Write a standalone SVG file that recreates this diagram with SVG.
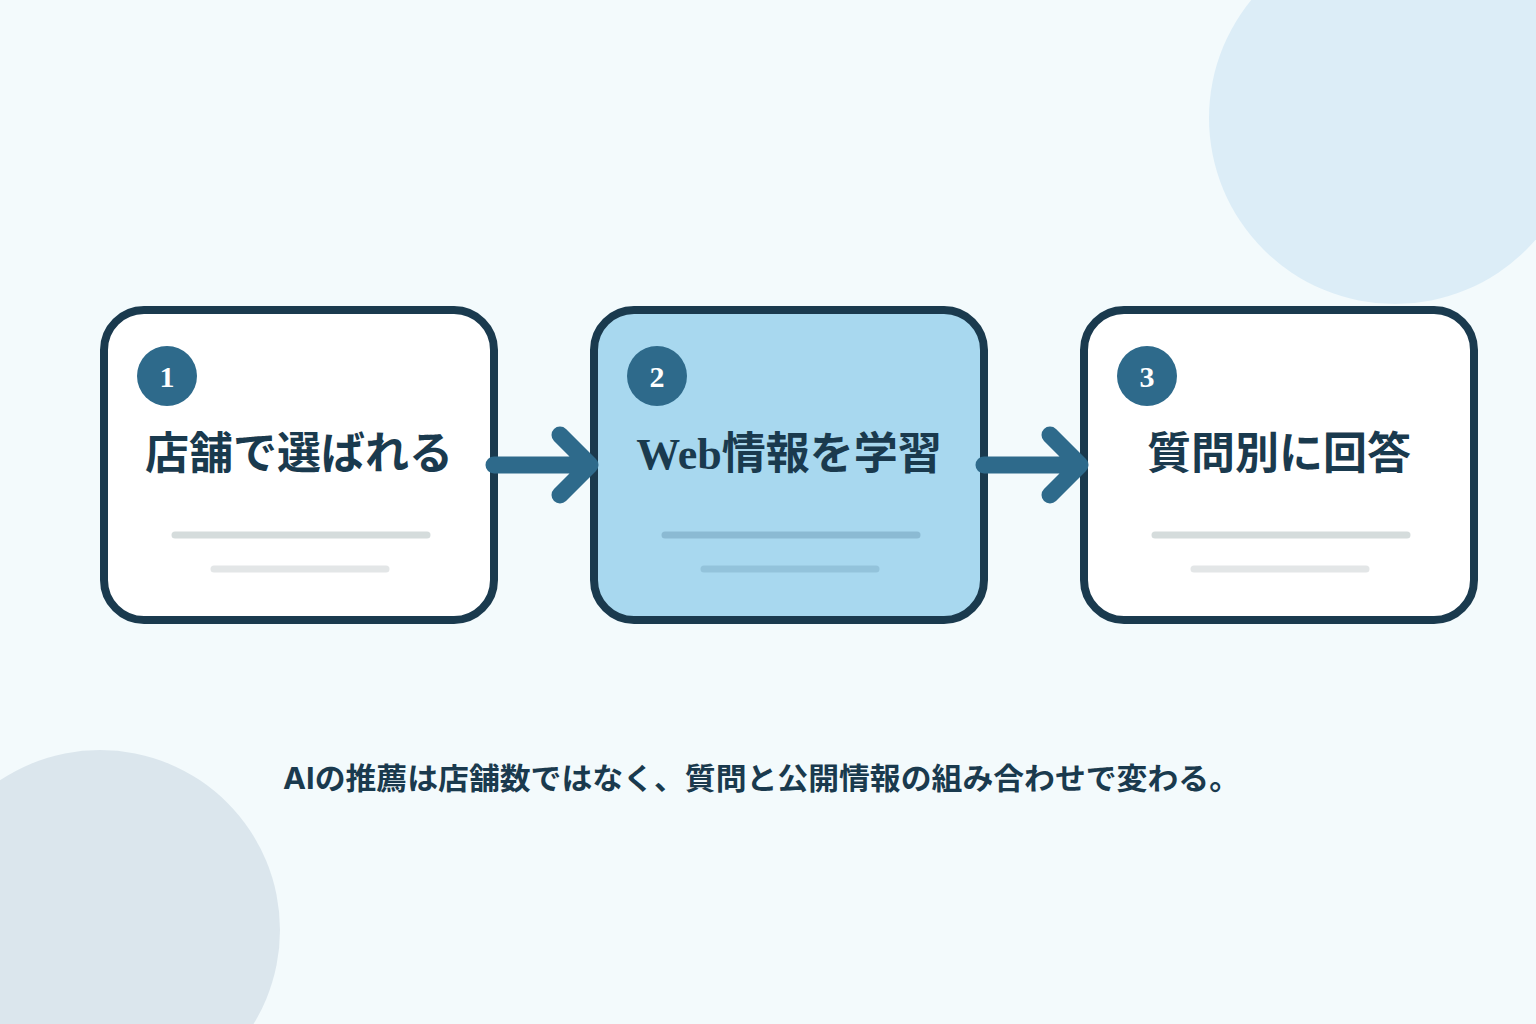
<svg xmlns="http://www.w3.org/2000/svg" width="1536" height="1024" viewBox="0 0 1536 1024">
<style>
.box{stroke:#1a3a4e;stroke-width:8}
.num{fill:#fff;font-family:"Liberation Serif",serif;font-weight:bold;font-size:30px;text-anchor:middle}
.title{fill:#1a3a4e;font-family:"Liberation Serif","Noto Sans CJK JP",serif;font-weight:bold;font-size:44px;text-anchor:middle}
.l1{stroke:#d5dcdc;stroke-width:7;stroke-linecap:round}
.l2{stroke:#e3e6e7;stroke-width:7;stroke-linecap:round}
.c{stroke:#2e6a8b;stroke-width:17;stroke-linecap:round;stroke-linejoin:round;fill:none}
</style>
<rect width="1536" height="1024" fill="#f3fafc"/>
<circle cx="1395" cy="118" r="186" fill="#dcedf7"/>
<circle cx="100" cy="930" r="180" fill="#dbe6ed"/>
<g id="n1">
<rect class="box" x="104" y="310" width="390" height="310" rx="40" fill="#fff"/>
<circle cx="167" cy="376" r="30" fill="#2e6a8b"/>
<text class="num" x="167" y="387">1</text>
<text class="title" x="299" y="469">店舗で選ばれる</text>
<line class="l1" x1="175" y1="535" x2="427" y2="535"/>
<line class="l2" x1="214" y1="569" x2="386" y2="569"/>
</g>
<g id="n2">
<rect class="box" x="594" y="310" width="390" height="310" rx="40" fill="#a8d8ef"/>
<circle cx="657" cy="376" r="30" fill="#2e6a8b"/>
<text class="num" x="657" y="387">2</text>
<text class="title" x="789" y="469">Web情報を学習</text>
<line x1="665" y1="535" x2="917" y2="535" stroke="#8bbad3" stroke-width="7" stroke-linecap="round"/>
<line x1="704" y1="569" x2="876" y2="569" stroke="#93c3db" stroke-width="7" stroke-linecap="round"/>
</g>
<g id="n3">
<rect class="box" x="1084" y="310" width="390" height="310" rx="40" fill="#fff"/>
<circle cx="1147" cy="376" r="30" fill="#2e6a8b"/>
<text class="num" x="1147" y="387">3</text>
<text class="title" x="1279" y="469">質問別に回答</text>
<line class="l1" x1="1155" y1="535" x2="1407" y2="535"/>
<line class="l2" x1="1194" y1="569" x2="1366" y2="569"/>
</g>
<g id="connectors">
<path class="c" d="M494 465 H588 M560 435 L590 465 L560 495"/>
<path class="c" d="M984 465 H1078 M1050 435 L1080 465 L1050 495"/>
</g>
<text x="283" y="789" textLength="957" lengthAdjust="spacingAndGlyphs" fill="#1a3a4e" font-family="Inter,'Noto Sans CJK JP',sans-serif" font-weight="bold" font-size="30">AIの推薦は店舗数ではなく、質問と公開情報の組み合わせで変わる。</text>
</svg>
